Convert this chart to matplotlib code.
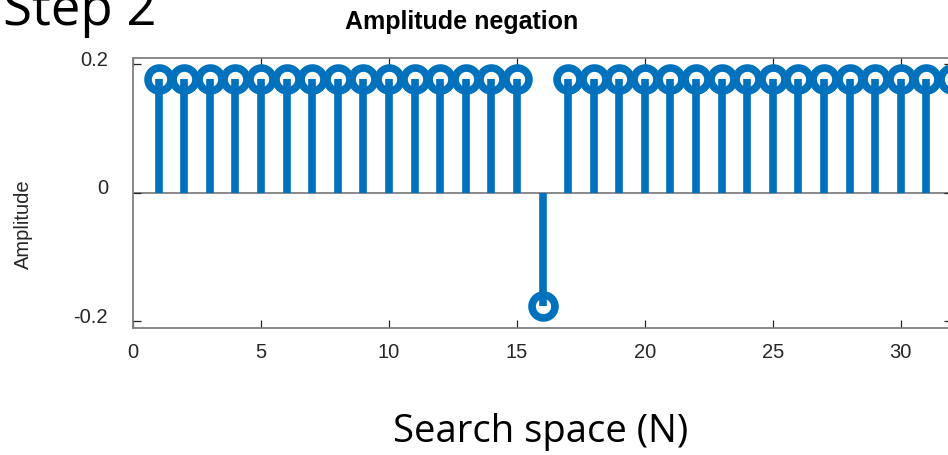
import numpy as np
import matplotlib
matplotlib.use("Agg")
import matplotlib.pyplot as plt
from matplotlib.transforms import ScaledTranslation

# Grover search, 32 states, state 16 marked and negated
n_states = 32
marked = 16
amp = 0.177

x = list(range(1, n_states + 1))
y = [(-amp if k == marked else amp) for k in x]

xticks = [0, 5, 10, 15, 20, 25, 30]
yticks = [-0.2, 0, 0.2]
ytick_labels = ["-0.2", "0", "0.2"]

blue = "#0072BD"

plt.rcParams["font.family"] = ["Liberation Sans", "DejaVu Sans"]

fig = plt.figure(figsize=(9.48, 4.55), dpi=100)
ax = fig.add_axes([133 / 948, 1 - 327.7 / 455, 819 / 948, 270 / 455])

markerline, stemlines, baseline = ax.stem(x, y, basefmt=" ")
stemlines.set_color(blue)
stemlines.set_linewidth(5.5)
markerline.set_marker("o")
markerline.set_markersize(16.5)
markerline.set_markeredgewidth(5.5)
markerline.set_markeredgecolor(blue)
markerline.set_markerfacecolor("none")
ax.axhline(0, color="#808080", lw=1.3, zorder=1)

ax.set_xlim(0, 32)
ax.set_ylim(-0.21, 0.21)
ax.set_xticks(xticks)
ax.set_yticks(yticks)
ax.set_yticklabels(ytick_labels)
ax.tick_params(direction="in", length=6, width=0.9, color="#262626",
               top=True, right=True, labelsize=14.5, labelcolor="#262626")
ax.tick_params(axis="x", pad=11)
ax.tick_params(axis="y", pad=18)
for lab in ax.get_yticklabels():
    lab.set_transform(lab.get_transform() +
                      ScaledTranslation(0, 6 / 100, fig.dpi_scale_trans))
for s in ax.spines.values():
    s.set_color("#808080")
    s.set_linewidth(1.3)

ax.set_ylabel("Amplitude", fontsize=14.5, color="#262626")
ax.yaxis.set_label_coords(-0.122, 0.384)

fig.text(462 / 948, 1 - 22 / 455, "Amplitude negation", fontsize=18,
         fontweight="bold", ha="center", va="center")
fig.text(3 / 948, 1 - 25 / 455, "Step 2", fontsize=38, family="Open Sans",
         ha="left", va="baseline")
fig.text(541 / 948, 1 - 432 / 455, "Search space (N)", fontsize=27.5,
         family="Open Sans", ha="center", va="center")

fig.savefig("out.png", dpi=100)
